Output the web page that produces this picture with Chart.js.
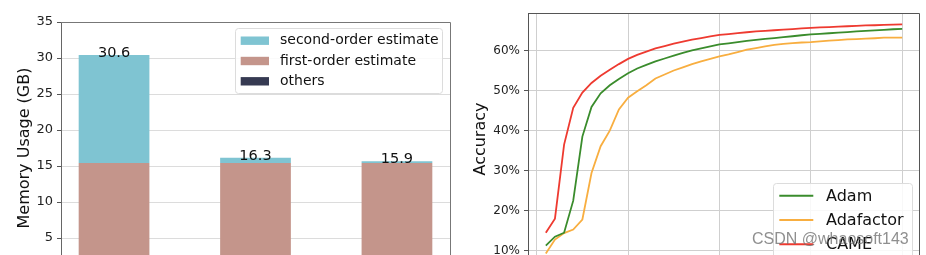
<!DOCTYPE html>
<html>
<head>
<meta charset="utf-8">
<script src="https://cdn.jsdelivr.net/npm/chart.js@4.4.0/dist/chart.umd.min.js"></script>
<style>
    body { margin: 0; width: 926px; height: 255px; overflow: hidden; background: #fff; position: relative; }
    #box_memory { position: absolute; left: 0; top: 0; }
    #box_accuracy { position: absolute; left: 460px; top: 0; }
    #watermark { position: absolute; left: 752px; top: 231px; font: 16px "Liberation Sans", Arial, sans-serif; line-height: 16px; color: rgba(115, 115, 115, 0.8); white-space: nowrap; }
</style>
</head>
<body>
<div id="box_memory"><canvas id="chart_memory" width="460" height="300"></canvas></div>
<div id="box_accuracy"><canvas id="chart_accuracy" width="466" height="300"></canvas></div>
<div id="watermark">CSDN @whaosoft143</div>
<script>
// DADOS - memoria
const optimizers = ['Adam', 'Adafactor', 'CAME'];
const others = [0.3, 0.3, 0.3];
const firstOrder = [15.1, 15.1, 15.1];
const secondOrder = [15.0, 0.75, 0.25];
const totals = [30.6, 16.3, 15.9];
const memoryTicks = [0, 5, 10, 15, 20, 25, 30, 35];

// DADOS - acuracia
const steps = [1, 2, 3, 4, 5, 6, 7, 8, 9, 10, 11, 12, 13, 14, 15, 16, 17, 18, 19, 20,
    21, 22, 23, 24, 25, 26, 27, 28, 29, 30, 31, 32, 33, 34, 35, 36, 37, 38, 39, 40];
const accAdam = [11.3, 13.5, 14.5, 22.5, 38.5, 45.9, 49.3, 51.3, 52.9, 54.3, 55.5, 56.4, 57.3, 58.0, 58.7, 59.4, 60.0, 60.5, 61.0, 61.5,
    61.8, 62.1, 62.4, 62.65, 62.9, 63.1, 63.35, 63.55, 63.8, 64.0, 64.15, 64.3, 64.45, 64.6, 64.75, 64.9, 65.0, 65.15, 65.3, 65.4];
const accAdafactor = [9.3, 12.8, 14.4, 15.3, 17.8, 29.4, 36.1, 40.0, 45.3, 48.2, 49.8, 51.3, 53.0, 54.0, 55.0, 55.8, 56.6, 57.3, 57.9, 58.5,
    59.0, 59.6, 60.2, 60.6, 61.0, 61.4, 61.65, 61.85, 62.0, 62.1, 62.3, 62.45, 62.6, 62.75, 62.85, 62.95, 63.05, 63.2, 63.2, 63.2];
const accCame = [14.5, 18.0, 36.5, 45.7, 49.5, 51.9, 53.7, 55.2, 56.6, 57.9, 58.9, 59.7, 60.5, 61.1, 61.7, 62.2, 62.7, 63.1, 63.5, 63.9,
    64.1, 64.35, 64.55, 64.75, 64.9, 65.05, 65.2, 65.35, 65.5, 65.65, 65.75, 65.85, 65.95, 66.05, 66.15, 66.25, 66.3, 66.4, 66.45, 66.5];
const accuracyTicks = [10, 20, 30, 40, 50, 60];

const fonte = '"DejaVu Sans", sans-serif';

function pontos(xs, ys) {
    return xs.map((x, i) => ({ x: x, y: ys[i] }));
}

function caixaLegenda(ctx, x, y, w, h) {
    ctx.beginPath();
    ctx.roundRect(x, y, w, h, 3);
    ctx.fillStyle = 'rgba(255,255,255,0.85)';
    ctx.fill();
    ctx.strokeStyle = '#dcdcdc';
    ctx.lineWidth = 1;
    ctx.stroke();
}

// GRAFICO memoria
const extrasMemoria = {
    id: 'extrasMemoria',
    afterDraw(chart) {
        const ctx = chart.ctx;
        const a = chart.chartArea;
        const sx = chart.scales.x;
        const sy = chart.scales.y;
        ctx.save();

        ctx.strokeStyle = '#777';
        ctx.lineWidth = 1;
        ctx.beginPath();
        ctx.moveTo(a.left, a.top + 0.5);
        ctx.lineTo(a.right + 0.5, a.top + 0.5);
        ctx.lineTo(a.right + 0.5, a.bottom);
        ctx.stroke();

        ctx.font = '14.5px ' + fonte;
        ctx.fillStyle = '#111';
        ctx.textAlign = 'center';
        ctx.textBaseline = 'middle';
        totals.forEach((t, i) => {
            ctx.fillText(t.toFixed(1), sx.getPixelForValue(i), sy.getPixelForValue(t));
        });

        caixaLegenda(ctx, 235.5, 28.5, 207, 65);
        const ds = chart.data.datasets.slice().reverse();
        ctx.font = '14px ' + fonte;
        ctx.textAlign = 'left';
        ds.forEach((d, i) => {
            const yy = 40.7 + i * 20.3;
            ctx.fillStyle = d.backgroundColor;
            ctx.fillRect(240.7, yy - 4.2, 28.3, 8.4);
            ctx.fillStyle = '#111';
            ctx.fillText(d.label, 280, yy);
        });
        ctx.restore();
    }
};

const posicoes = optimizers.map((_, i) => i);

new Chart(document.getElementById('chart_memory'), {
    type: 'bar',
    data: {
        datasets: [{
            label: 'others',
            data: pontos(posicoes, others),
            backgroundColor: '#363a52'
        }, {
            label: 'first-order estimate',
            data: pontos(posicoes, firstOrder),
            backgroundColor: '#c4958b'
        }, {
            label: 'second-order estimate',
            data: pontos(posicoes, secondOrder),
            backgroundColor: '#7fc4d2'
        }]
    },
    options: {
        responsive: false,
        animation: false,
        layout: { padding: { top: 22, right: 10, left: 0, bottom: 0 } },
        datasets: { bar: { categoryPercentage: 1, barPercentage: 0.5, borderWidth: 0 } },
        scales: {
            x: {
                type: 'linear',
                stacked: true,
                offset: false,
                min: -0.375,
                max: 2.375,
                afterBuildTicks: function (scale) { scale.ticks = posicoes.map(v => ({ value: v })); },
                ticks: { display: false },
                grid: { display: false, offset: false },
                border: { display: false },
                afterFit: function (scale) { scale.height = 26; }
            },
            y: {
                stacked: true,
                min: memoryTicks[0],
                max: memoryTicks[memoryTicks.length - 1],
                afterBuildTicks: function (scale) { scale.ticks = memoryTicks.map(v => ({ value: v })); },
                ticks: { color: '#222', font: { size: 13, family: fonte }, padding: 4 },
                grid: { color: '#dcdcdc', tickColor: '#555', tickLength: 4 },
                border: { color: '#666', width: 1 },
                title: { display: true, text: 'Memory Usage (GB)', color: '#111', font: { size: 16, family: fonte }, padding: { top: 15, bottom: 0 } },
                afterFit: function (scale) { scale.width = 61; }
            }
        },
        plugins: { legend: { display: false }, tooltip: { enabled: false } }
    },
    plugins: [extrasMemoria]
});

// GRAFICO acuracia
const extrasAcuracia = {
    id: 'extrasAcuracia',
    afterDraw(chart) {
        const ctx = chart.ctx;
        const a = chart.chartArea;
        ctx.save();
        ctx.strokeStyle = '#555';
        ctx.lineWidth = 1;
        ctx.beginPath();
        ctx.moveTo(a.left, a.top + 0.5);
        ctx.lineTo(a.right - 0.5, a.top + 0.5);
        ctx.lineTo(a.right - 0.5, a.bottom);
        ctx.stroke();

        caixaLegenda(ctx, 313.5, 183.5, 139, 80);
        ctx.font = '16px ' + fonte;
        ctx.textAlign = 'left';
        ctx.textBaseline = 'middle';
        chart.data.datasets.forEach((d, i) => {
            const yy = 195.7 + i * 24.3;
            ctx.strokeStyle = d.borderColor;
            ctx.lineWidth = 2;
            ctx.beginPath();
            ctx.moveTo(319.3, yy);
            ctx.lineTo(353.3, yy);
            ctx.stroke();
            ctx.fillStyle = '#111';
            ctx.fillText(d.label, 366, yy + 1);
        });
        ctx.restore();
    }
};

new Chart(document.getElementById('chart_accuracy'), {
    type: 'line',
    data: {
        datasets: [{
            label: 'Adam',
            data: pontos(steps, accAdam),
            borderColor: '#3a8c2c'
        }, {
            label: 'Adafactor',
            data: pontos(steps, accAdafactor),
            borderColor: '#f8ae40'
        }, {
            label: 'CAME',
            data: pontos(steps, accCame),
            borderColor: '#ee3a30'
        }]
    },
    options: {
        responsive: false,
        animation: false,
        layout: { padding: { top: 13, right: 6, left: 0, bottom: 0 } },
        elements: { point: { radius: 0 }, line: { borderWidth: 1.8, tension: 0 } },
        scales: {
            x: {
                type: 'linear',
                min: -0.95,
                max: 41.95,
                ticks: { display: false, stepSize: 10, includeBounds: false },
                grid: { color: '#cfcfcf', drawTicks: false },
                border: { display: false },
                afterFit: function (scale) { scale.height = 35; }
            },
            y: {
                min: 6.44,
                max: 69.36,
                afterBuildTicks: function (scale) { scale.ticks = accuracyTicks.map(v => ({ value: v })); },
                ticks: { color: '#222', font: { size: 12, family: fonte }, padding: 4, callback: v => v + '%' },
                grid: { color: '#cfcfcf', tickColor: '#555', tickLength: 4 },
                border: { color: '#555', width: 1 },
                title: { display: true, text: 'Accuracy', color: '#111', font: { size: 16, family: fonte }, padding: { top: 11.5, bottom: 0 } },
                afterFit: function (scale) { scale.width = 68; }
            }
        },
        plugins: { legend: { display: false }, tooltip: { enabled: false } }
    },
    plugins: [extrasAcuracia]
});
</script>
</body>
</html>
